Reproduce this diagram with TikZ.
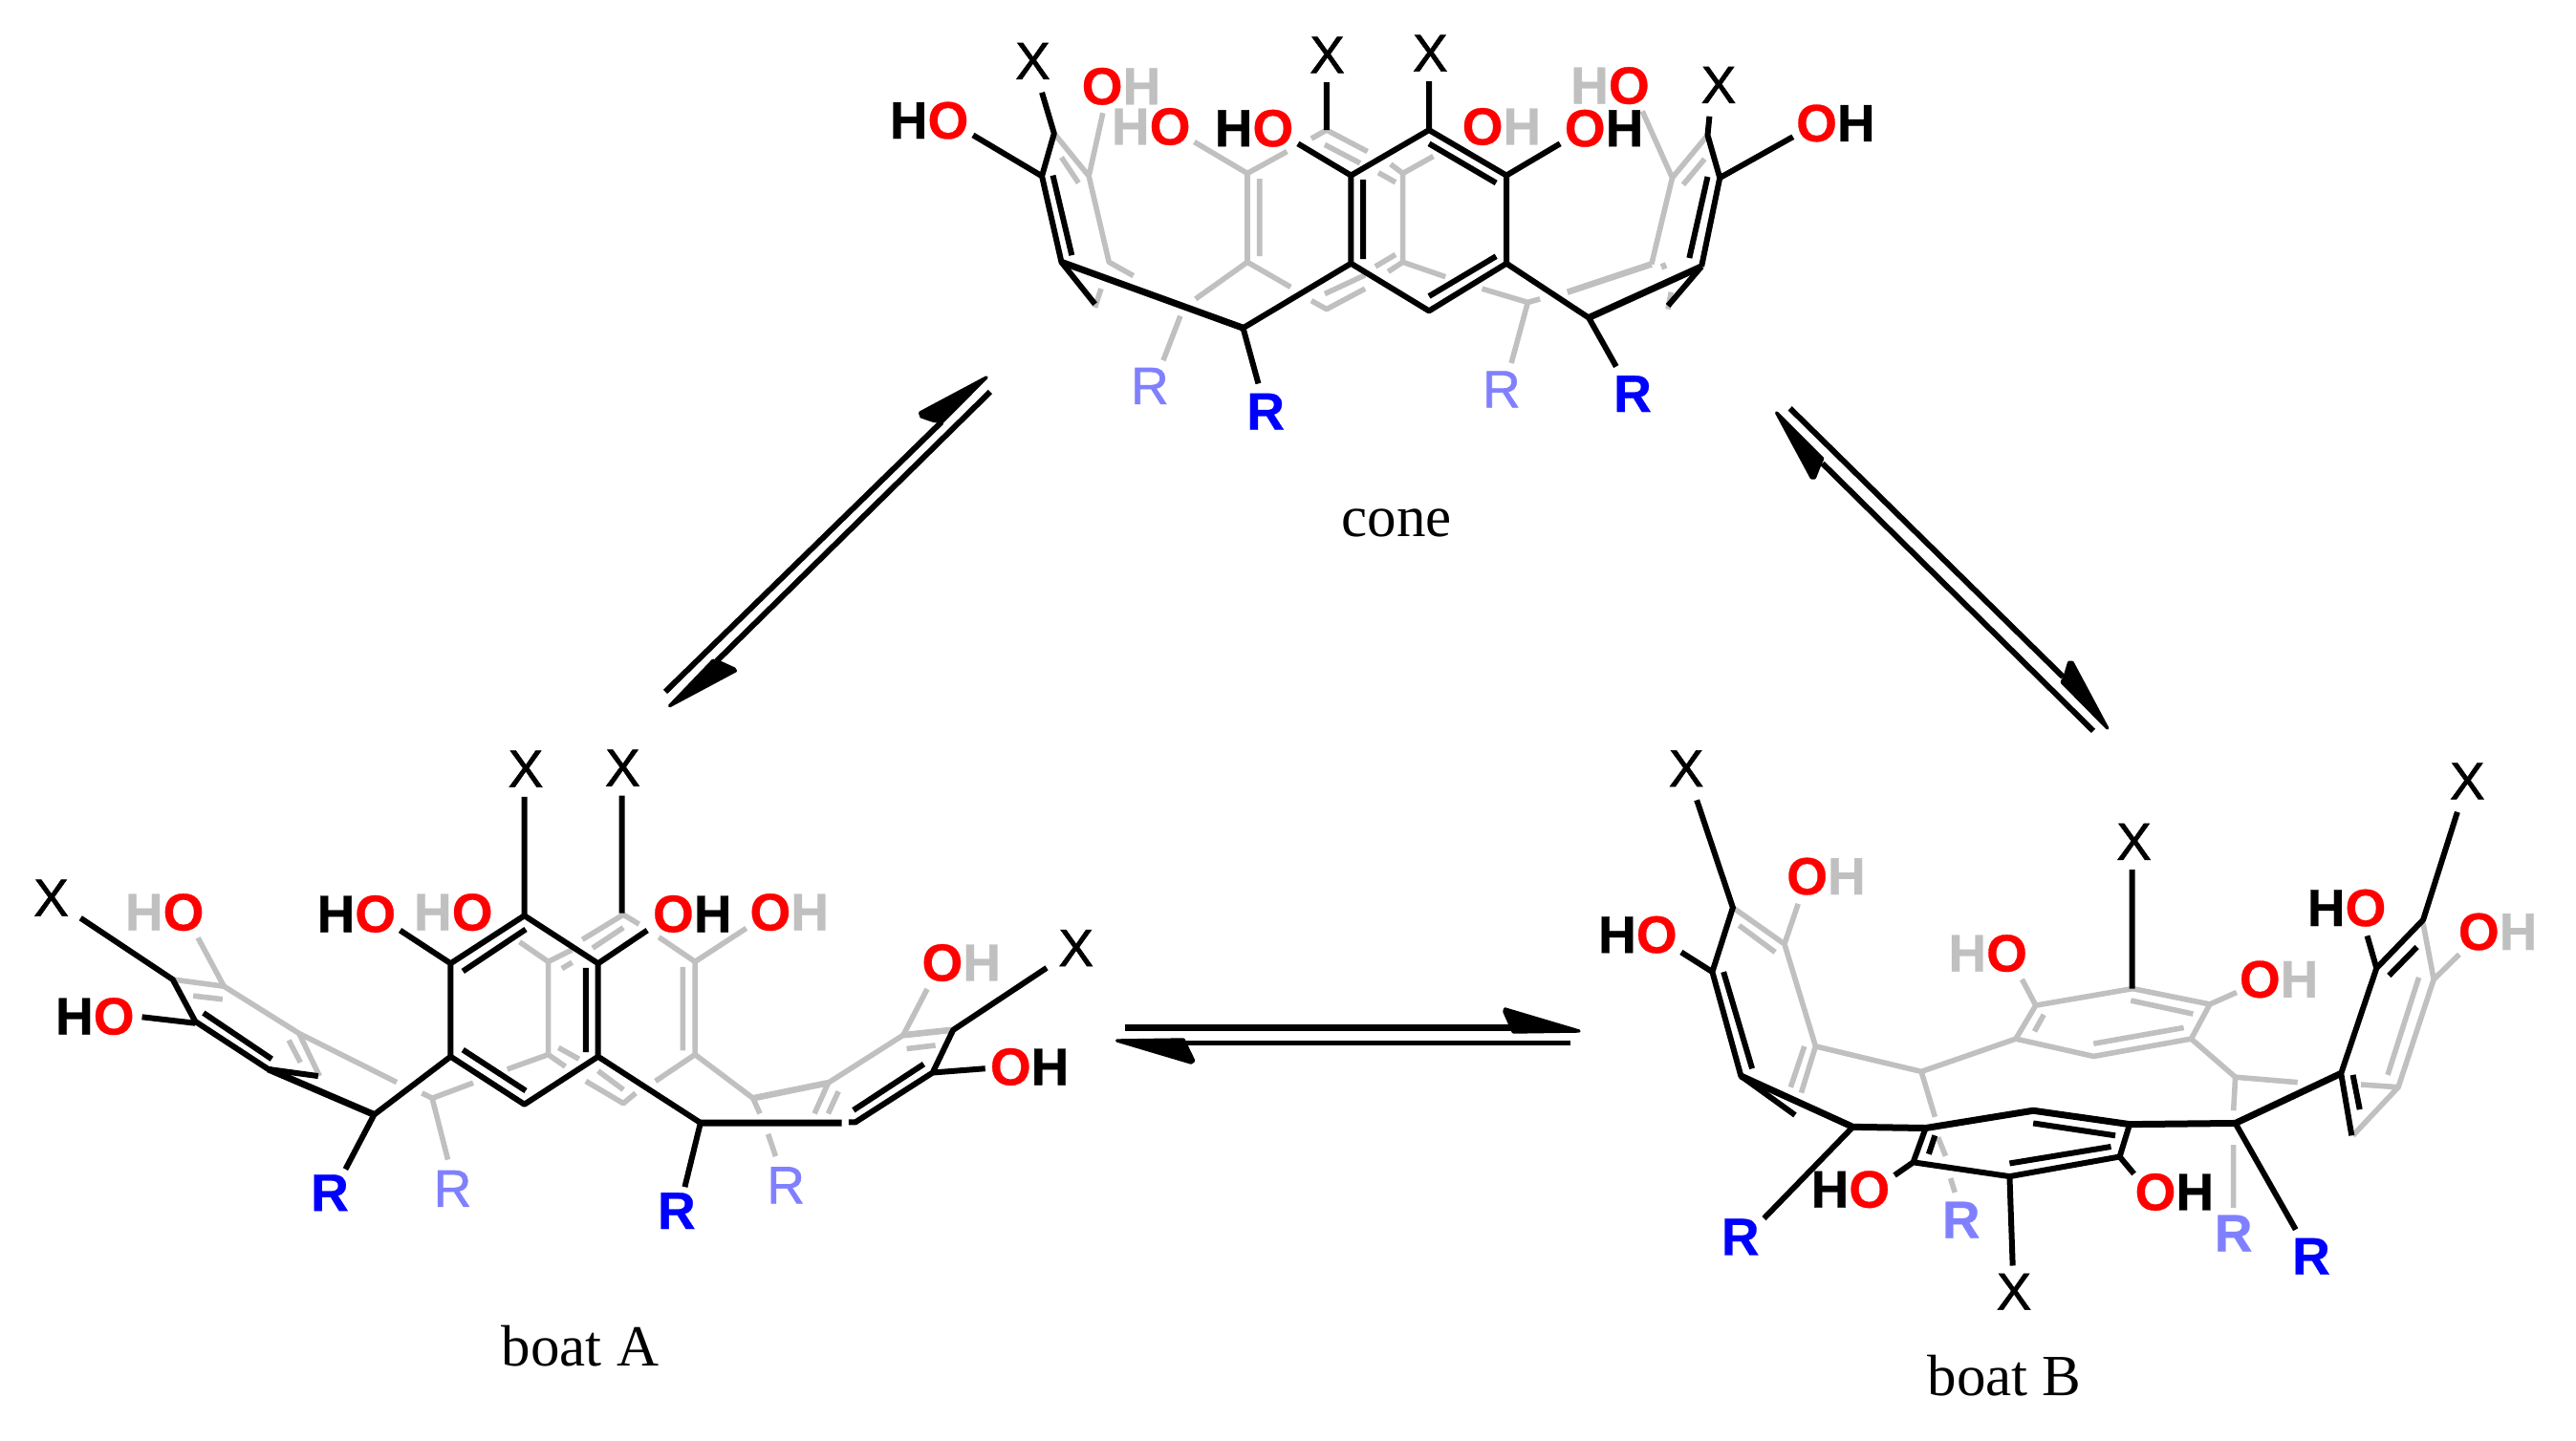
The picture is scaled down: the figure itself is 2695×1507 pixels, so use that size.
\documentclass[tikz,border=0pt]{standalone}
\usepackage{fontspec}
\setmainfont{Liberation Sans}[FakeBold=1.1]
\newfontfamily\capfont{Liberation Serif}
\newfontfamily\boldlab{Liberation Sans Bold}[FakeBold=0.5]
\definecolor{bondgray}{HTML}{C0C0C0}
\definecolor{paleblue}{HTML}{8080FF}
\newcommand{\HOx}[1]{\textcolor{#1}{H}\textcolor{red}{O}}
\newcommand{\OHx}[1]{\textcolor{red}{O}\textcolor{#1}{H}}
\tikzset{
  bondk/.style={draw=black,line width=6pt,line join=round},
  bondkt/.style={draw=black,line width=7pt,line join=round},
  bondg/.style={draw=bondgray,line width=5.6pt,line join=round},
  bondgt/.style={draw=bondgray,line width=6.6pt,line join=round},
  xlab/.style={inner sep=0pt,font=\fontsize{55pt}{60pt}\selectfont},
  hlab/.style={inner sep=0pt,font=\fontsize{55pt}{60pt}\boldlab},
  rblue/.style={inner sep=0pt,text=blue,font=\fontsize{55pt}{60pt}\boldlab},
  rpale/.style={inner sep=0pt,text=paleblue,font=\fontsize{55pt}{60pt}\selectfont},
  rpaleb/.style={inner sep=0pt,text=paleblue,font=\fontsize{55pt}{60pt}\boldlab},
  captxt/.style={inner sep=0pt,font=\fontsize{61pt}{66pt}\capfont},
  eqline/.style={draw=black,line width=6pt},
  eqhead/.style={fill=black,draw=black,line width=3.4pt,line join=round},
}
\begin{document}
\begin{tikzpicture}[x=1pt,y=-1pt]
\useasboundingbox (0,0) rectangle (2695,1507);
\fill[white] (0,0) rectangle (2695,1507);

%================= CONE
\begin{scope}[shift={(900pt,-20pt)},x=0.63776pt,y=-0.35714pt]
\draw[bondg]
 (318,335)--(375,460)--(408,712)--(448,752) (330,405)--(358,480) (375,460)--(398,275)
 (385,845)--(395,790)
 (548,360)--(635,452)--(700,388) (635,452)--(635,712) (655,468)--(655,695)
 (635,712)--(706,785) (635,712)--(550,820) (525,870)--(497,1000)
 (740,350)--(765,325)--(832,388) (762,368)--(820,422)
 (740,825)--(765,850)--(828,790) (762,805)--(828,750)
 (870,425)--(890,452)--(940,402) (850,450)--(878,478) (890,452)--(890,712)
 (890,712)--(960,755) (890,712)--(866,740) (845,725)--(878,690)
 (1020,790)--(1095,830)--(1115,820) (1095,830)--(1068,1008)
 (1298,718)--(1332,465)--(1390,340) (1350,485)--(1385,410) (1332,465)--(1283,270)
 (1316,715)--(1320,732) (1325,850)--(1330,800);
\draw[bondgt] (1160,800)--(1298,718);
\draw[bondk]
 (298,215)--(318,335)--(298,460)--(330,712)--(385,835) (185,340)--(298,460)
 (316,458)--(347,692)
 (628,905)--(805,716) (628,905)--(653,1068)
 (805,458)--(805,716)--(933,855)--(1060,716)--(1060,458)--(933,325)--(805,458)
 (825,470)--(825,703) (933,365)--(1043,480) (1043,695)--(933,812)
 (933,325)--(933,182) (805,458)--(718,365) (1060,458)--(1148,365) (765,325)--(765,185)
 (1060,716)--(1195,875) (1195,875)--(1240,1018)
 (1380,725)--(1325,840) (1380,725)--(1410,465)--(1390,340)--(1393,285)
 (1360,700)--(1390,462) (1410,465)--(1530,345);
\draw[bondkt] (330,712)--(628,905) (1195,875)--(1380,725);
\node[xlab] (cx1) at (283,123) {X};
\node[xlab] (cx2) at (766,105) {X};
\node[xlab] (cx3) at (935,100) {X};
\node[xlab] (cx4) at (1408,193) {X};
\node[hlab] (co1) at (113,297) {\HOx{black}};
\node[hlab] (co2) at (428,197) {\OHx{bondgray}};
\node[hlab] (co3) at (477,315) {\HOx{bondgray}};
\node[hlab] (co4) at (646,320) {\HOx{black}};
\node[hlab] (co5) at (1052,315) {\OHx{bondgray}};
\node[hlab] (co6) at (1220,320) {\OHx{black}};
\node[hlab] (co7) at (1230,195) {\HOx{bondgray}};
\node[hlab] (co8) at (1600,305) {\OHx{black}};
\node[rpale] (cr1) at (475,1075) {R};
\node[rblue] (cr2) at (665,1150) {R};
\node[rpale] (cr3) at (1052,1085) {R};
\node[rblue] (cr4) at (1267,1098) {R};
\node[captxt] (conecap) at (880,1478) {cone};
\end{scope}

%================= BOAT A
\begin{scope}[shift={(20pt,-760pt)},x=0.71429pt,y=-0.35714pt]
\draw[bondg]
 (225,742)--(300,762) (255,790)--(298,800) (300,762)--(262,620)
 (300,762)--(410,900)--(553,1043) (410,900)--(440,1025) (395,920)--(412,985)
 (775,962)--(715,1005) (665,1045)--(605,1090)--(590,1075) (605,1090)--(628,1270)
 (733,632)--(775,690)--(775,962) (775,690)--(810,655) (795,710)--(810,692)
 (825,625)--(885,552)--(908,580) (840,650)--(885,590)
 (775,962)--(800,997) (790,942)--(820,975)
 (848,1010)--(885,1065) (830,1040)--(885,1105)--(903,1075)
 (937,618)--(990,690)--(1065,592) (990,690)--(990,962) (972,705)--(972,950)
 (990,962)--(932,1040) (990,962)--(1075,1090)--(1085,1135) (1097,1195)--(1108,1260)
 (1185,1045)--(1295,905)--(1330,770) (1185,1045)--(1165,1135) (1200,1070)--(1185,1135)
 (1300,945)--(1342,935);
\draw[bondgt] (1075,1090)--(1185,1045) (1295,905)--(1365,890);
\draw[bondk]
 (90,562)--(225,742)--(258,865)--(365,1005)--(438,1025) (180,852)--(258,870)
 (270,840)--(370,975) (520,1138)--(632,968) (520,1138)--(478,1298)
 (632,695)--(740,555)--(848,695)--(848,968)--(740,1108)--(632,968)--(632,695)
 (650,718)--(742,595) (830,708)--(830,955) (650,948)--(742,1068)
 (740,555)--(740,207) (883,548)--(883,203) (632,695)--(558,598) (848,695)--(920,598)
 (848,968)--(998,1162)--(975,1350)
 (1215,1160)--(1225,1160)--(1338,1015)--(1368,890)--(1505,708)
 (1222,1125)--(1325,990) (1338,1015)--(1415,1003);
\draw[bondkt] (365,1005)--(520,1138) (998,1162)--(1205,1162);
\node[xlab] (ax1) at (742,125) {X};
\node[xlab] (ax2) at (884,122) {X};
\node[xlab] (ax3) at (47,503) {X};
\node[xlab] (ax4) at (1548,650) {X};
\node[hlab] (ao1) at (213,545) {\HOx{bondgray}};
\node[hlab] (ao2) at (111,850) {\HOx{black}};
\node[hlab] (ao3) at (494,550) {\HOx{black}};
\node[hlab] (ao4) at (636,545) {\HOx{bondgray}};
\node[hlab] (ao5) at (986,550) {\OHx{black}};
\node[hlab] (ao6) at (1128,545) {\OHx{bondgray}};
\node[hlab] (ao7) at (1380,693) {\OHx{bondgray}};
\node[hlab] (ao8) at (1480,998) {\OHx{black}};
\node[rblue] (ar1) at (455,1367) {R};
\node[rpale] (ar2) at (635,1355) {R};
\node[rblue] (ar3) at (963,1420) {R};
\node[rpale] (ar4) at (1123,1345) {R};
\end{scope}
\node[captxt] (boatacap) at (607,1409) {boat A};

%================= BOAT B
\begin{scope}[shift={(1660pt,-770pt)},x=0.65062pt,y=-0.38911pt]
\draw[bondg]
 (235,462)--(318,560)--(340,452) (245,510)--(303,582) (318,560)--(368,835)--(345,960)
 (350,835)--(328,945) (368,835)--(538,903)--(690,815) (538,903)--(560,1025)
 (565,1080)--(577,1130) (585,1190)--(592,1228)
 (690,815)--(722,725)--(878,680)--(1002,722)--(972,815)--(815,862)--(690,815)
 (720,795)--(735,750) (722,725)--(700,655) (875,712)--(975,748) (1002,722)--(1045,690)
 (815,828)--(960,785) (972,815)--(1043,918)--(1143,932) (1043,918)--(1040,1008)
 (1040,1100)--(1040,1270)
 (1345,505)--(1362,655)--(1403,588) (1362,655)--(1305,945)--(1245,938)
 (1338,650)--(1288,912) (1305,945)--(1232,1075);
\draw[bondk]
 (177,173)--(235,462)--(202,635)--(248,915)--(335,1020) (152,582)--(202,635)
 (220,635)--(266,895) (428,1052)--(285,1298)
 (545,1055)--(525,1147)--(680,1185)--(857,1132)--(873,1045) (560,1075)--(550,1125)
 (718,1042)--(850,1075) (680,1150)--(843,1105)
 (525,1147)--(495,1182) (857,1132)--(880,1178) (680,1185)--(685,1425)
 (1043,1042)--(1140,1328) (1230,1075)--(1213,908)--(1270,625)--(1345,495)--(1400,205)
 (1232,912)--(1243,1005) (1290,645)--(1335,568) (1270,625)--(1255,538)
 (877,360)--(877,680);
\draw[bondkt] (248,915)--(428,1052)--(545,1055)--(718,1008)--(873,1045)--(1043,1042)--(1213,908);
\node[xlab] (bx1) at (160,88) {X};
\node[xlab] (bx2) at (880,285) {X};
\node[xlab] (bx3) at (1416,122) {X};
\node[xlab] (bx4) at (687,1495) {X};
\node[hlab] (bo1) at (82,535) {\HOx{black}};
\node[hlab] (bo2) at (385,378) {\OHx{bondgray}};
\node[hlab] (bo3) at (645,585) {\HOx{bondgray}};
\node[hlab] (bo4) at (1113,655) {\OHx{bondgray}};
\node[hlab] (bo5) at (1222,463) {\HOx{black}};
\node[hlab] (bo6) at (1465,527) {\OHx{bondgray}};
\node[hlab] (bo7) at (424,1220) {\HOx{black}};
\node[hlab] (bo8) at (945,1227) {\OHx{black}};
\node[rblue] (br1) at (247,1348) {R};
\node[rpaleb] (br2) at (602,1302) {R};
\node[rpaleb] (br3) at (1040,1338) {R};
\node[rblue] (br4) at (1165,1400) {R};
\end{scope}
\node[captxt] (boatbcap) at (2097,1440) {boat B};

%================= EQUILIBRIUM ARROWS
\begin{scope}[shift={(680pt,-370pt)},x=0.3333pt,y=-0.3333pt]
\coordinate (p1s) at (48,1062); \coordinate (p1e) at (915,215);
\coordinate (p2s) at (1068,120); \coordinate (p2e) at (210,965);
\draw[eqline] (p1s)--(p1e);
\draw[eqline] (p2s)--(p2e);
\draw[eqhead] (1056,75)--(848,186)--(852,198)--(890,211)--(918,214)--cycle;
\draw[eqhead] (62,1106)--(268,996)--(264,990)--(225,972)--(198,964)--cycle;
\end{scope}
\begin{scope}[shift={(1840pt,-410pt)},x=0.3333pt,y=-0.3333pt]
\coordinate (q1s) at (98,52); \coordinate (q1e) at (955,895);
\coordinate (q2s) at (1050,1065); \coordinate (q2e) at (200,225);
\draw[eqline] (q1s)--(q1e);
\draw[eqline] (q2s)--(q2e);
\draw[eqhead] (1094,1056)--(984,850)--(974,850)--(962,890)--(952,912)--cycle;
\draw[eqhead] (56,66)--(166,270)--(175,270)--(190,232)--(200,210)--cycle;
\end{scope}
\begin{scope}[shift={(1150pt,-1040pt)},x=0.3333pt,y=-0.3333pt]
\coordinate (r1s) at (80,107); \coordinate (r1e) at (1300,107);
\coordinate (r2s) at (1480,154); \coordinate (r2e) at (270,154);
\draw[eqline,line width=6.4pt] (r1s)--(r1e);
\draw[eqline,line width=5pt] (r2s)--(r2e);
\draw[eqhead] (1506,117)--(1274,48)--(1272,56)--(1300,120)--cycle;
\draw[eqhead] (56,147)--(264,144)--(296,210)--(288,216)--cycle;
\end{scope}
\end{tikzpicture}
\end{document}
